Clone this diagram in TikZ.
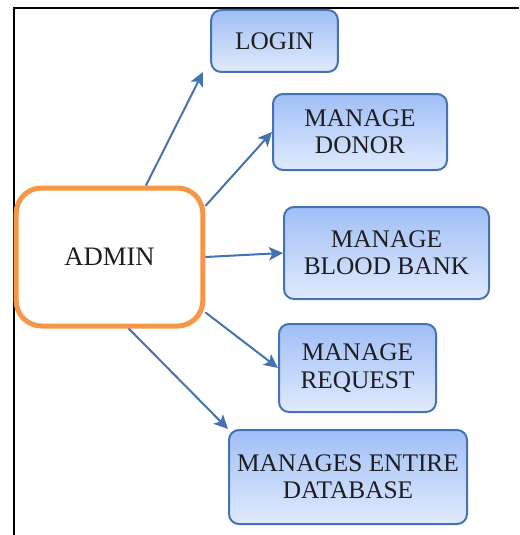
\documentclass[tikz,border=0pt]{standalone}
\usepackage{fontspec}
\setmainfont{Liberation Serif}
\definecolor{BoxEdge}{RGB}{68,114,178}
\definecolor{BoxTop}{RGB}{160,191,246}
\definecolor{BoxBottom}{RGB}{224,234,253}
\definecolor{AdminEdge}{RGB}{247,150,70}
\definecolor{TextGray}{RGB}{30,30,30}
\usetikzlibrary{arrows.meta,positioning}

\begin{document}
\begin{tikzpicture}[x=0.75pt,y=-0.75pt,
  task/.style={draw=BoxEdge,line width=1.5pt,rounded corners=7.5pt,top color=BoxTop,bottom color=BoxBottom,align=center,text=TextGray,font=\fontsize{19}{20.5}\selectfont},
  link/.style={-{Stealth[length=10.5pt,width=10pt,inset=2.5pt]},BoxEdge,line width=1.5pt}]
  \useasboundingbox (0,0) rectangle (519,535);
  % frame
  \draw[line width=1.5pt] (14,535) -- (14,8) -- (519,8);

  \node[draw=AdminEdge,line width=3.75pt,rounded corners=19pt,fill=white,minimum width=140pt,minimum height=103.5pt,text=TextGray,font=\fontsize{20}{22}\selectfont] (admin) at (109.5,257) {ADMIN};

  \node[task,minimum width=95pt,minimum height=46.5pt] (login) at (274.5,41) {LOGIN};
  \node[task,minimum width=130.5pt,minimum height=57pt] (donor) at (360,132) {MANAGE\\DONOR};
  \node[task,minimum width=153.75pt,minimum height=69pt] (bank) at (386.5,253) {MANAGE\\BLOOD BANK};
  \node[task,minimum width=117.75pt,minimum height=66pt] (request) at (357.5,368) {MANAGE\\REQUEST};
  \node[task,minimum width=178.5pt,minimum height=70.5pt] (db) at (348,477) {MANAGES ENTIRE\\DATABASE};

  \coordinate (loginTip) at (203,72);
  \draw[link] (admin.63) -- (loginTip);
  \draw[link] (admin.28) -- (donor.west);
  \draw[link] (admin.east) -- (bank.west);
  \draw[link] (admin.-30) -- (request.west);
  \draw[link] (admin.-75) -- (db.north west);
\end{tikzpicture}
\end{document}
